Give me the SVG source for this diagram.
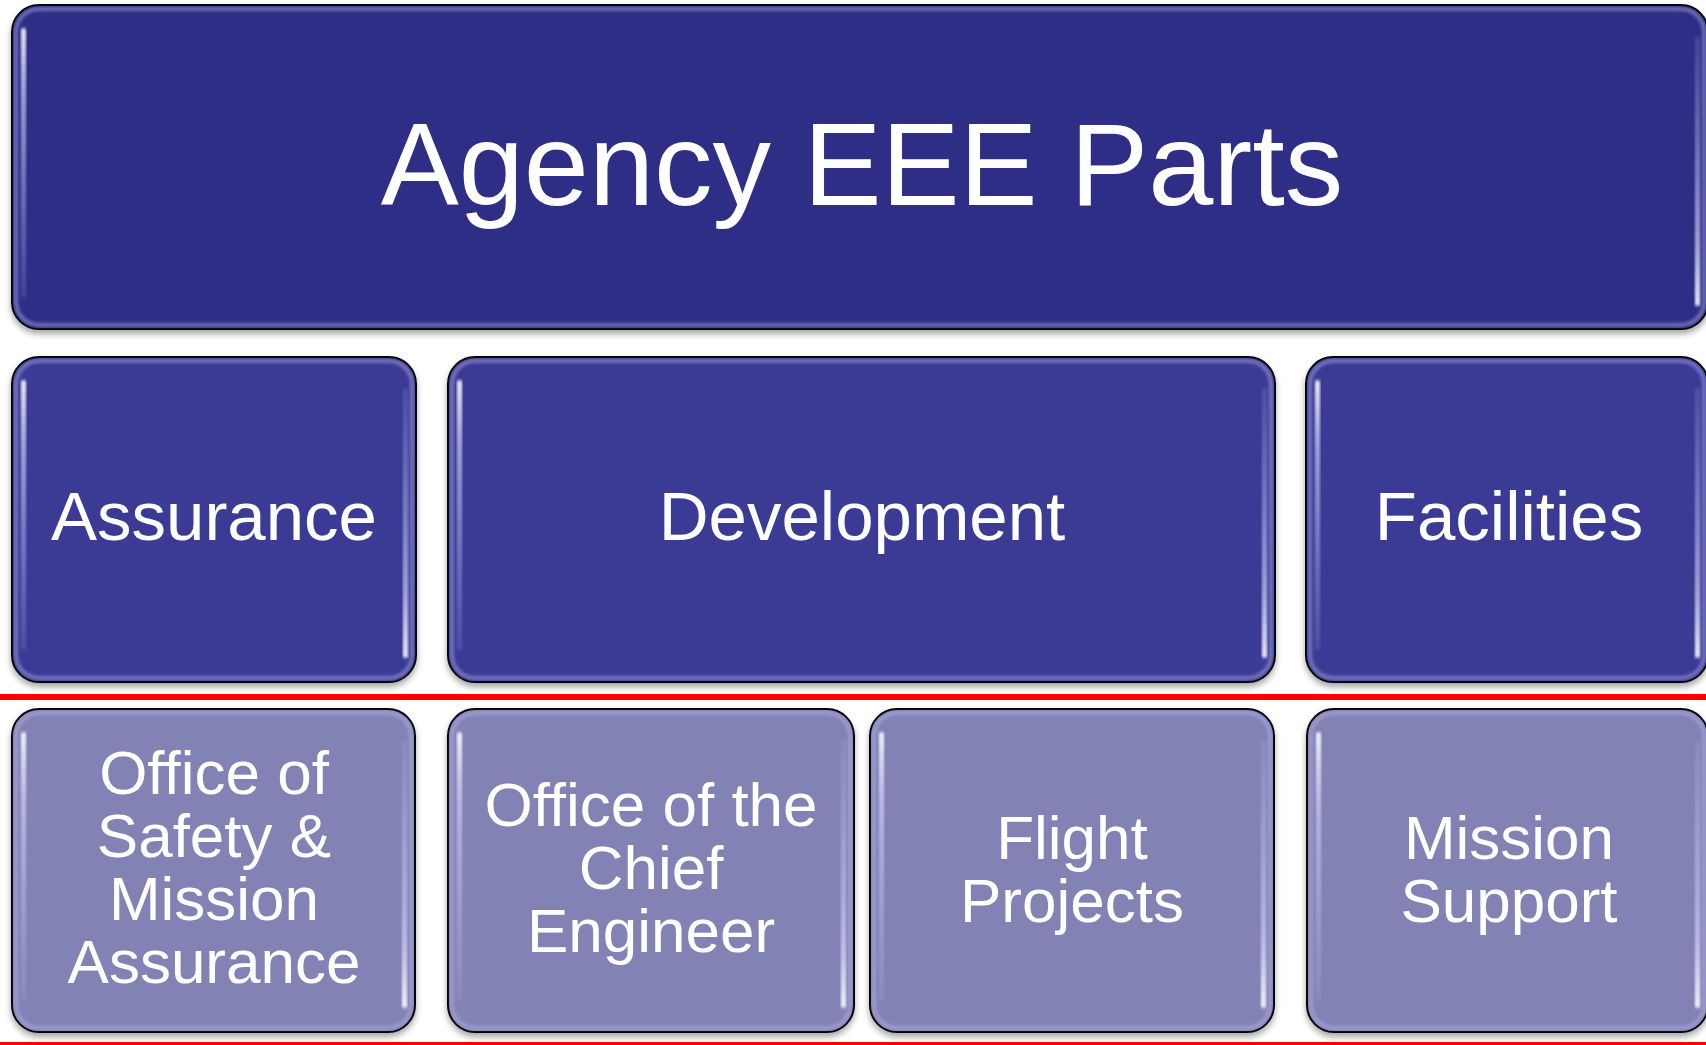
<svg xmlns="http://www.w3.org/2000/svg" width="1706" height="1045" viewBox="0 0 1706 1045">
<defs>
<filter id="sh" x="-5%" y="-5%" width="110%" height="115%">
<feDropShadow dx="0" dy="4" stdDeviation="3" flood-color="#000" flood-opacity="0.35"/>
</filter>
<filter id="soft" x="-5%" y="-5%" width="110%" height="110%">
<feGaussianBlur stdDeviation="1.5"/>
</filter>
<linearGradient id="hlL" x1="0" y1="0" x2="0" y2="1">
<stop offset="0" stop-color="#fff" stop-opacity="0.95"/>
<stop offset="0.25" stop-color="#d8d8ff" stop-opacity="0.7"/>
<stop offset="1" stop-color="#c0c0ff" stop-opacity="0.15"/>
</linearGradient>
<linearGradient id="hlR" x1="0" y1="0" x2="0" y2="1">
<stop offset="0" stop-color="#c0c0ff" stop-opacity="0.15"/>
<stop offset="0.75" stop-color="#d8d8ff" stop-opacity="0.7"/>
<stop offset="1" stop-color="#fff" stop-opacity="0.95"/>
</linearGradient>
</defs>
<style>
.box{stroke:#000;stroke-width:2;filter:url(#sh)}
.c1{fill:#2E2E87}
.c2{fill:#3B3B96}
.c3{fill:#8282B4}
.rim{fill:none;stroke:#b8b8f0;stroke-opacity:0.45;stroke-width:4;filter:url(#soft)}
.hl{filter:url(#soft)}
.t{font-family:"Liberation Sans",Arial,sans-serif;fill:#fff;text-anchor:middle}
.t1{font-size:117px}
.t2{font-size:69px}
.t3{font-size:62px}
.red{fill:#FF0000}
</style>
<rect width="1706" height="1045" fill="#fff"/>
<g id="dividers">
<rect class="red" x="0" y="694" width="1706" height="6"/>
<rect class="red" x="0" y="1042" width="1706" height="3"/>
</g>
<g id="connectors"></g>
<g id="n-agency">
<rect class="box c1" x="12" y="5" width="1696" height="324" rx="27"/>
<rect class="rim" x="16" y="9" width="1688" height="316" rx="23"/>
<rect class="hl" x="21" y="28" width="5" height="270" rx="2.5" fill="url(#hlL)"/>
<rect class="hl" x="1695" y="36" width="5" height="270" rx="2.5" fill="url(#hlR)"/>
<text class="t t1" x="862" y="205">Agency EEE Parts</text>
</g>
<g id="n-assurance">
<rect class="box c2" x="12" y="357" width="404" height="325" rx="27"/>
<rect class="rim" x="16" y="361" width="396" height="317" rx="23"/>
<rect class="hl" x="21" y="380" width="5" height="270" rx="2.5" fill="url(#hlL)"/>
<rect class="hl" x="403" y="388" width="5" height="270" rx="2.5" fill="url(#hlR)"/>
<text class="t t2" x="214" y="540">Assurance</text>
</g>
<g id="n-development">
<rect class="box c2" x="448" y="357" width="827" height="325" rx="27"/>
<rect class="rim" x="452" y="361" width="819" height="317" rx="23"/>
<rect class="hl" x="457" y="380" width="5" height="270" rx="2.5" fill="url(#hlL)"/>
<rect class="hl" x="1262" y="388" width="5" height="270" rx="2.5" fill="url(#hlR)"/>
<text class="t t2" x="862" y="540">Development</text>
</g>
<g id="n-facilities">
<rect class="box c2" x="1306" y="357" width="402" height="325" rx="27"/>
<rect class="rim" x="1310" y="361" width="394" height="317" rx="23"/>
<rect class="hl" x="1315" y="380" width="5" height="270" rx="2.5" fill="url(#hlL)"/>
<rect class="hl" x="1695" y="388" width="5" height="270" rx="2.5" fill="url(#hlR)"/>
<text class="t t2" x="1509" y="540">Facilities</text>
</g>
<g id="n-osma">
<rect class="box c3" x="12" y="709" width="403" height="323" rx="27"/>
<rect class="rim" x="16" y="713" width="395" height="315" rx="23"/>
<rect class="hl" x="21" y="732" width="5" height="268" rx="2.5" fill="url(#hlL)"/>
<rect class="hl" x="402" y="740" width="5" height="268" rx="2.5" fill="url(#hlR)"/>
<text class="t t3" x="214"><tspan x="214" y="794">Office of</tspan><tspan x="214" y="857">Safety &amp;</tspan><tspan x="214" y="920">Mission</tspan><tspan x="214" y="983">Assurance</tspan></text>
</g>
<g id="n-ocE">
<rect class="box c3" x="448" y="709" width="406" height="323" rx="27"/>
<rect class="rim" x="452" y="713" width="398" height="315" rx="23"/>
<rect class="hl" x="457" y="732" width="5" height="268" rx="2.5" fill="url(#hlL)"/>
<rect class="hl" x="841" y="740" width="5" height="268" rx="2.5" fill="url(#hlR)"/>
<text class="t t3" x="651"><tspan x="651" y="826">Office of the</tspan><tspan x="651" y="889">Chief</tspan><tspan x="651" y="952">Engineer</tspan></text>
</g>
<g id="n-flight">
<rect class="box c3" x="870" y="709" width="404" height="323" rx="27"/>
<rect class="rim" x="874" y="713" width="396" height="315" rx="23"/>
<rect class="hl" x="879" y="732" width="5" height="268" rx="2.5" fill="url(#hlL)"/>
<rect class="hl" x="1261" y="740" width="5" height="268" rx="2.5" fill="url(#hlR)"/>
<text class="t t3" x="1072"><tspan x="1072" y="859">Flight</tspan><tspan x="1072" y="922">Projects</tspan></text>
</g>
<g id="n-mission">
<rect class="box c3" x="1307" y="709" width="401" height="323" rx="27"/>
<rect class="rim" x="1311" y="713" width="393" height="315" rx="23"/>
<rect class="hl" x="1316" y="732" width="5" height="268" rx="2.5" fill="url(#hlL)"/>
<rect class="hl" x="1695" y="740" width="5" height="268" rx="2.5" fill="url(#hlR)"/>
<text class="t t3" x="1509"><tspan x="1509" y="859">Mission</tspan><tspan x="1509" y="922">Support</tspan></text>
</g>
</svg>
